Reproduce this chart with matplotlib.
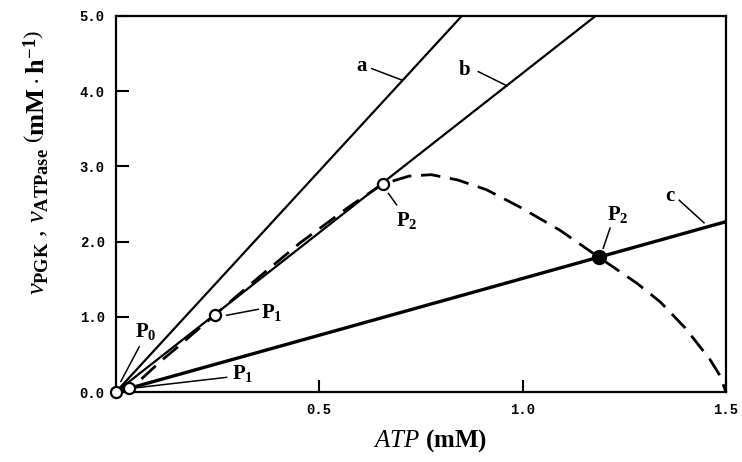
import numpy as np
import matplotlib
matplotlib.use("Agg")
import matplotlib.pyplot as plt

plt.rcParams["mathtext.fontset"] = "custom"
plt.rcParams["mathtext.rm"] = "Liberation Serif"
plt.rcParams["mathtext.it"] = "Liberation Serif:italic"
plt.rcParams["mathtext.bf"] = "Liberation Serif:bold"
plt.rcParams["font.family"] = "Liberation Serif"

# ATPase rate lines v = k * ATP (mM/h per mM)
line_names = ["a", "b", "c"]
line_slopes = [5.88, 4.24, 1.51]
line_widths = [1.6, 1.6, 2.4]
atp_range = [0.0, 1.5]

# PGK rate curve (dashed)
pgk_atp = [0.0, 0.033, 0.06, 0.108, 0.152, 0.186, 0.243, 0.35, 0.452, 0.575,
           0.656, 0.72, 0.775, 0.84, 0.911, 0.993, 1.092, 1.188, 1.28, 1.338,
           1.40, 1.461, 1.485, 1.5]
pgk_v = [0.0, 0.05, 0.16, 0.40, 0.60, 0.76, 1.025, 1.52, 1.98, 2.47,
         2.765, 2.87, 2.89, 2.82, 2.69, 2.46, 2.15, 1.79, 1.45, 1.20,
         0.85, 0.43, 0.22, 0.0]

# Steady-state points
open_pts_atp = [0.0, 0.033, 0.243, 0.656]
open_pts_v = [0.0, 0.05, 1.025, 2.765]
closed_pts_atp = [1.188]
closed_pts_v = [1.79]

x_ticks = [0.5, 1.0, 1.5]
x_tick_labels = ["0.5", "1.0", "1.5"]
y_ticks = [0.0, 1.0, 2.0, 3.0, 4.0, 5.0]
y_tick_labels = ["0.0", "1.0", "2.0", "3.0", "4.0", "5.0"]

fig = plt.figure(figsize=(7.42, 4.62), dpi=100)
ax = fig.add_axes([0.1563, 0.1515, 0.8221, 0.8139])

x_line = np.array(atp_range)
for name, k, lw in zip(line_names, line_slopes, line_widths):
    ax.plot(x_line, k * x_line, color="black", lw=lw, solid_capstyle="butt")

ax.plot(pgk_atp, pgk_v, color="black", lw=2.0, dashes=(7, 3.5))

ax.plot(open_pts_atp, open_pts_v, "o", ms=8, mfc="white", mec="black",
        mew=1.6, zorder=5, clip_on=False)
ax.plot(closed_pts_atp, closed_pts_v, "o", ms=10, mfc="black", mec="black",
        zorder=5)

# Labels with leader lines: (text, text_xy, leader_start, leader_end)
annots = [
    ("a", (0.603, 4.34), (0.629, 4.30), (0.702, 4.15)),
    ("b", (0.858, 4.28), (0.891, 4.26), (0.962, 4.07)),
    ("c", (1.361, 2.61), (1.385, 2.55), (1.446, 2.25)),
    (r"$\mathbf{P_2}$", (1.235, 2.36), (1.215, 2.18), (1.198, 1.91)),
    (r"$\mathbf{P_2}$", (0.715, 2.28), (0.670, 2.64), (0.690, 2.49)),
    (r"$\mathbf{P_1}$", (0.383, 1.06), (0.272, 1.02), (0.350, 1.10)),
    (r"$\mathbf{P_0}$", (0.073, 0.80), (0.057, 0.60), (0.012, 0.14)),
    (r"$\mathbf{P_1}$", (0.313, 0.25), (0.272, 0.195), (0.051, 0.057)),
]
for txt, (tx, ty), p0, p1 in annots:
    ax.plot([p0[0], p1[0]], [p0[1], p1[1]], color="black", lw=1.1)
    ax.text(tx, ty, txt, fontsize=15, fontweight="bold", ha="center",
            va="center")

ax.set_xlim(0, 1.5)
ax.set_ylim(0, 5.0)
ax.set_xticks(x_ticks)
ax.set_xticklabels(x_tick_labels)
ax.set_yticks(y_ticks)
ax.set_yticklabels(y_tick_labels)
for lab in ax.get_xticklabels() + ax.get_yticklabels():
    lab.set_fontfamily("Liberation Mono")
    lab.set_fontweight("bold")
    lab.set_fontsize(10)
ax.tick_params(direction="in", length=9, width=1.5, pad=8)
for s in ax.spines.values():
    s.set_linewidth(1.6)

ax.set_xlabel(r"$\mathit{ATP}$ $\mathbf{(mM)}$", fontsize=18)
ax.xaxis.set_label_coords(0.515, -0.093)
ax.set_ylabel(r"$\mathit{v}_{\mathbf{PGK}}$ , $\mathit{v}_{\mathbf{ATPase}}$ "
              r"$\left(\mathbf{mM\cdot h^{-1}}\right)$",
              fontsize=19)
ax.yaxis.set_label_coords(-0.107, 0.61)

fig.savefig("out.png", dpi=100)
